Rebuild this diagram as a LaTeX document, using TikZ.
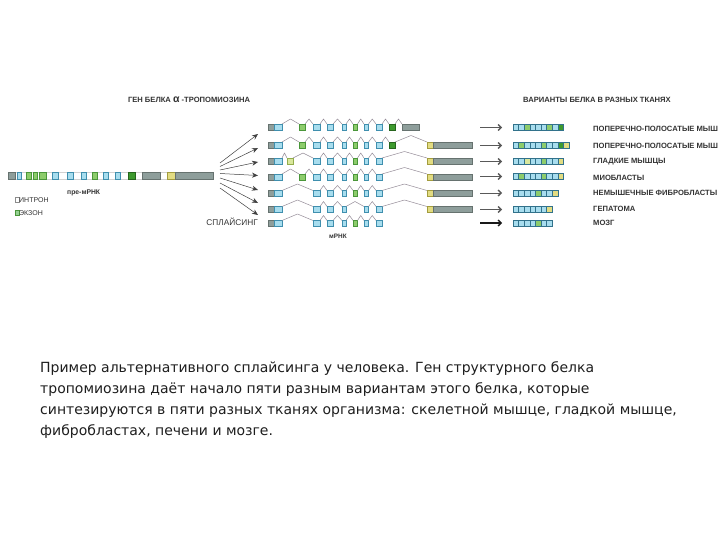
\documentclass[tikz,border=0pt]{standalone}
\usepackage{fontspec}
\setmainfont{DejaVu Sans}
\newfontfamily\lab{Liberation Sans}
\usetikzlibrary{arrows.meta,calc}
\definecolor{exgray}{HTML}{8E9E9B}
\definecolor{exgrayd}{HTML}{66726F}
\definecolor{exblue}{HTML}{A8DDEE}
\definecolor{exblued}{HTML}{3F8FAE}
\definecolor{exgreen}{HTML}{8DCC6B}
\definecolor{exgreend}{HTML}{4A963A}
\definecolor{exdgreen}{HTML}{3E9A2E}
\definecolor{exdgreend}{HTML}{26651D}
\definecolor{exyellow}{HTML}{E2DC82}
\definecolor{exyellowd}{HTML}{A39C3E}
\definecolor{exyg}{HTML}{D9E79C}
\definecolor{exygd}{HTML}{93AD4C}
\definecolor{intr}{HTML}{958C98}
\definecolor{captc}{HTML}{1E1E1E}
\definecolor{labc}{HTML}{333333}
\tikzset{
  grayex/.style={fill=exgray,draw=exgrayd,line width=0.4pt},
  blueex/.style={fill=exblue,draw=exblued,line width=0.5pt},
  greenex/.style={fill=exgreen,draw=exgreend,line width=0.5pt},
  dgreenex/.style={fill=exdgreen,draw=exdgreend,line width=0.5pt},
  yellowex/.style={fill=exyellow,draw=exyellowd,line width=0.5pt},
  ygex/.style={fill=exyg,draw=exygd,line width=0.5pt},
  introncell/.style={fill=white,draw=black!18,line width=0.3pt},
  intronline/.style={draw=intr,line width=0.5pt,line join=round},
  protcell/.style={draw=exblued!80!black,line width=0.6pt},
  smalllab/.style={font=\lab\bfseries\fontsize{7.6}{8}\selectfont,text=labc,inner sep=0pt},
  legendlab/.style={font=\lab\fontsize{7}{8}\selectfont,text=labc,inner sep=0pt},
  captline/.style={font=\fontsize{14}{16}\selectfont,text=captc,anchor=base west,inner sep=0pt},
  fanarrow/.style={draw=black!75,line width=0.5pt,-{Stealth[length=6pt,width=5pt]}},
  rarrow/.style={draw=black!65,line width=0.5pt,-{Straight Barb[length=3pt,width=6pt,line width=1.3pt]}},
}
% column definitions for mature mRNA rows
\newcommand\defcol[4]{\expandafter\def\csname cl#1\endcsname{#2}\expandafter\def\csname cr#1\endcsname{#3}\expandafter\def\csname cs#1\endcsname{#4}}
\defcol{0}{268}{274}{grayex}
\defcol{1}{274}{282}{blueex}
\defcol{2}{287}{293}{ygex}
\defcol{3}{299}{305}{greenex}
\defcol{4}{313}{320}{blueex}
\defcol{5}{327}{333}{blueex}
\defcol{6}{342}{346}{blueex}
\defcol{7}{353}{357.5}{greenex}
\defcol{8}{364}{368.5}{blueex}
\defcol{9}{376}{382}{blueex}
\defcol{10}{389}{395}{dgreenex}
\defcol{11}{402}{419}{grayex}
\defcol{12}{427}{433}{yellowex}
\defcol{13}{433}{472}{grayex}
\newcommand\mrow[2]{%
  \gdef\prevr{}%
  \foreach \c in {#2}{%
    \edef\myL{\csname cl\c\endcsname}\edef\myR{\csname cr\c\endcsname}\edef\myS{\csname cs\c\endcsname}%
    \ifx\prevr\empty\else
      \pgfmathsetmacro\gapw{\myL-\prevr}%
      \ifdim\gapw pt>1pt
        \pgfmathsetmacro\midx{(\myL+\prevr)/2}%
        \pgfmathsetmacro\hh{\gapw>20 ? 6.5 : 5}%
        \draw[intronline] (\prevr,#1-3) -- (\midx,#1-3-\hh) -- (\myL,#1-3);
      \fi
    \fi
    \expandafter\path\expandafter[\myS] (\myL,#1-3) rectangle (\myR,#1+3);
    \xdef\prevr{\myR}%
  }}
% protein bar
\newcommand\prot[2]{%
  \foreach \s [count=\k from 0] in {#2}{%
    \pgfmathsetmacro\xa{513+5.6*\k}\pgfmathsetmacro\xb{\xa+5.6}%
    \expandafter\path\expandafter[\s,protcell] (\xa,#1-3) rectangle (\xb,#1+3);
  }}
\begin{document}
\begin{tikzpicture}[x=1pt,y=-1pt]
\useasboundingbox[fill=white] (0,0) rectangle (720,540);
\begin{scope}
\clip (0,0) rectangle (720,540);
% headers
\node[smalllab] (hgene) at (189,99.5) {ГЕН БЕЛКА {\fontsize{10.5}{10}\selectfont α} -ТРОПОМИОЗИНА};
\node[smalllab] (hvar) at (597,99.5) {ВАРИАНТЫ БЕЛКА В РАЗНЫХ ТКАНЯХ};
% pre-mRNA
\path[introncell] (8,172) rectangle (213,179);
\foreach \a/\b/\s in {8/15/grayex,17/21/blueex,26/31/greenex,33/37/greenex,39/46/greenex,52/58/blueex,67/73/blueex,81/86/blueex,92/97/greenex,103/108/blueex,115/120/blueex,128/135/dgreenex,142/160/grayex,167/175/yellowex,175/213/grayex}{
  \expandafter\path\expandafter[\s] (\a,172) rectangle (\b,179);
}
\coordinate (pre) at (213,175.5);
\node[legendlab,font=\lab\bfseries\fontsize{6.8}{8}\selectfont,anchor=west] (premrna) at (67,192.5) {пре-мРНК};
% legend
\path[introncell,draw=black!45] (15,197.5) rectangle (19,202.5);
\node[legendlab,anchor=west] (lintron) at (19,200) {ИНТРОН};
\path[greenex,fill=exgreen!70!exblue] (15,210.5) rectangle (19,215.5);
\node[legendlab,anchor=west] (lexon) at (19,213) {ЭКЗОН};
% fan arrows
\foreach \i/\ty/\hy in {1/163/134,2/166.5/148,3/170/162,4/173.5/175.5,5/178/190,6/183/203,7/188/215}{
  \coordinate (ft\i) at (220,\ty);
  \coordinate (fh\i) at (258,\hy);
  \draw[fanarrow] (ft\i) -- (fh\i);
}
\node[legendlab,font=\lab\fontsize{8.3}{9}\selectfont,anchor=east] (splice) at (258,221.5) {СПЛАЙСИНГ};
% mature mRNA rows
\mrow{127}{0,1,3,4,5,6,7,8,9,10,11}
\mrow{145}{0,1,3,4,5,6,7,8,9,10,12,13}
\mrow{161}{0,1,2,4,5,6,7,8,9,12,13}
\mrow{177}{0,1,3,4,5,6,7,8,9,12,13}
\mrow{193.5}{0,1,4,5,6,7,8,9,12,13}
\mrow{209.5}{0,1,4,5,6,8,9,12,13}
\mrow{223.5}{0,1,4,5,6,7,8,9}
\node[legendlab,font=\lab\bfseries\fontsize{6.4}{7}\selectfont] (mrna) at (338,236.5) {мРНК};
% right arrows
\foreach \i/\y in {1/127.5,2/145.5,3/161.5,4/176.5,5/193,6/209.5,7/223}{
  \coordinate (ra\i) at (480,\y);
  \coordinate (rb\i) at (502,\y);
}
\foreach \i in {1,...,6}{\draw[rarrow] (ra\i) -- (rb\i);}
\draw[rarrow,draw=black!90,line width=1.1pt] (ra7) -- (rb7);
% protein bars
\prot{127.5}{blueex,blueex,greenex,blueex,blueex,blueex,greenex,blueex,dgreenex}
\prot{145.5}{blueex,greenex,blueex,blueex,blueex,greenex,blueex,blueex,dgreenex,yellowex}
\prot{161.5}{blueex,blueex,ygex,blueex,blueex,greenex,blueex,blueex,yellowex}
\prot{176.5}{blueex,greenex,blueex,blueex,blueex,greenex,blueex,blueex,yellowex}
\prot{193}{blueex,blueex,blueex,blueex,greenex,blueex,blueex,yellowex}
\prot{209.5}{blueex,blueex,blueex,blueex,blueex,blueex,yellowex}
\prot{223}{blueex,blueex,blueex,blueex,greenex,blueex,blueex}
% tissue labels
\node[smalllab,anchor=west] (t1) at (593,128.5) {ПОПЕРЕЧНО-ПОЛОСАТЫЕ МЫШ};
\node[smalllab,anchor=west] (t2) at (593,146) {ПОПЕРЕЧНО-ПОЛОСАТЫЕ МЫШ};
\node[smalllab,anchor=west] (t3) at (593,162) {ГЛАДКИЕ МЫШЦЫ};
\node[smalllab,anchor=west] (t4) at (593,177.5) {МИОБЛАСТЫ};
\node[smalllab,anchor=west] (t5) at (593,193) {НЕМЫШЕЧНЫЕ ФИБРОБЛАСТЫ};
\node[smalllab,anchor=west] (t6) at (593,209) {ГЕПАТОМА};
\node[smalllab,anchor=west] (t7) at (593,222.5) {МОЗГ};
% caption
\node[captline] (c1) at (40,372) {Пример альтернативного сплайсинга у человека. Ген структурного белка};
\node[captline] (c2) at (40,393) {тропомиозина даёт начало пяти разным вариантам этого белка, которые};
\node[captline] (c3) at (40,414) {синтезируются в пяти разных тканях организма: скелетной мышце, гладкой мышце,};
\node[captline] (c4) at (40,435) {фибробластах, печени и мозге.};
\end{scope}
\end{tikzpicture}
\end{document}
